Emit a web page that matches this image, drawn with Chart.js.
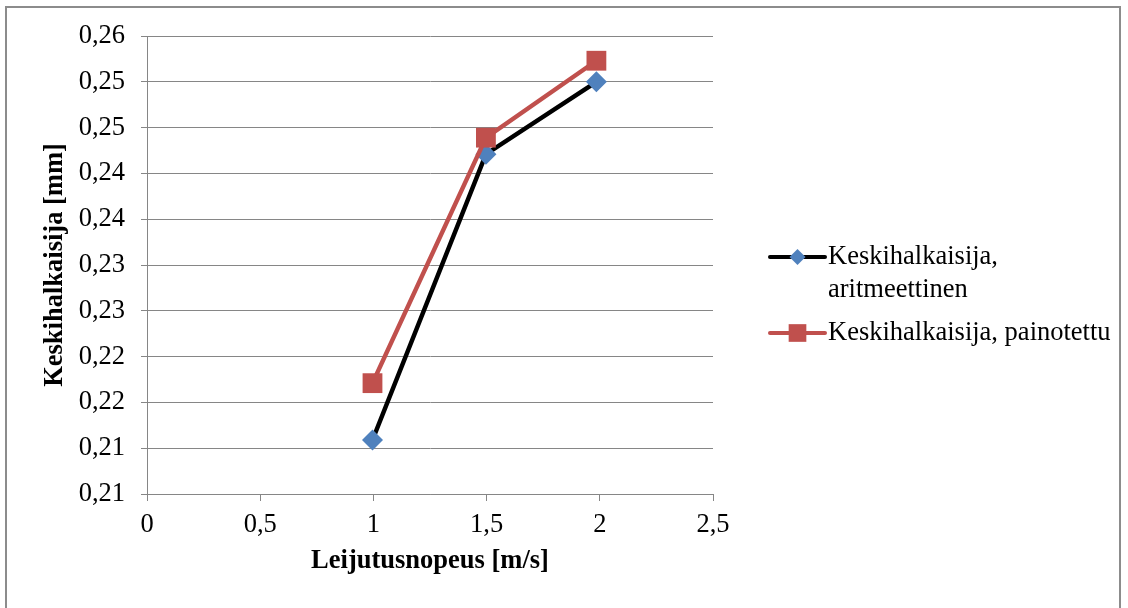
<!DOCTYPE html>
<html>
<head>
<meta charset="utf-8">
<script src="https://cdn.jsdelivr.net/npm/chart.js@4.4.1/dist/chart.umd.min.js"></script>
<style>
  html, body { margin: 0; padding: 0; background: #ffffff; overflow: hidden; }
  #wrap { position: relative; width: 1128px; height: 608px; }
  #c { position: absolute; left: 0; top: 0; }
  #frame { position: absolute; left: 5px; top: 6px; width: 1112px; height: 700px;
           border: 2px solid #8c8c8c; pointer-events: none; }
</style>
</head>
<body>
<div id="wrap">
  <canvas id="c" width="1128" height="608"></canvas>
  <div id="frame"></div>
</div>
<script>
// ---- data ----
const xSpeeds = [0.996, 1.497, 1.985];
const aritmeettinen = [0.2109, 0.2421, 0.2500];
const painotettu = [0.2171, 0.2439, 0.2523];
const seriesLabels = [
  ['Keskihalkaisija,', 'aritmeettinen'],
  ['Keskihalkaisija, painotettu']
];
const xTickLabels = ['0', '0,5', '1', '1,5', '2', '2,5'];
const yTickLabels = ['0,21', '0,21', '0,22', '0,22', '0,23', '0,23', '0,24', '0,24', '0,25', '0,25', '0,26'];
const xTitle = 'Leijutusnopeus [m/s]';
const yTitle = 'Keskihalkaisija [mm]';

const FONT = '"Liberation Serif", "Times New Roman", serif';
const FS = 26.5;
const GRID = '#868686';

function pts(xs, ys) { return xs.map((x, i) => ({ x: x, y: ys[i] })); }

const sideLegend = {
  id: 'sideLegend',
  afterDraw(chart) {
    const ctx = chart.ctx;
    const area = chart.chartArea;
    const x0 = area.right + 57;
    const lineLen = 55;
    const lh = 33;
    const gap = 10;
    const metas = chart.data.datasets;
    // total height
    let total = 0;
    metas.forEach((ds, i) => { total += ds.legendLines.length * lh; if (i) total += gap; });
    let y = 295 - total / 2 + lh / 2;
    ctx.save();
    ctx.font = FS + 'px ' + FONT;
    ctx.textBaseline = 'middle';
    ctx.textAlign = 'left';
    metas.forEach((ds, i) => {
      ctx.strokeStyle = ds.borderColor;
      ctx.lineWidth = 4;
      ctx.lineCap = 'round';
      ctx.beginPath();
      ctx.moveTo(x0, y);
      ctx.lineTo(x0 + lineLen, y);
      ctx.stroke();
      ctx.fillStyle = ds.pointBackgroundColor;
      ctx.strokeStyle = ds.pointBackgroundColor;
      Chart.helpers.drawPoint(ctx, { pointStyle: ds.pointStyle, radius: ds.legendRadius, rotation: 0, borderWidth: 0 }, x0 + lineLen / 2, y);
      ctx.fillStyle = '#000000';
      ds.legendLines.forEach((t, k) => {
        ctx.fillText(t, x0 + lineLen + 3, y + k * lh);
      });
      y += ds.legendLines.length * lh + gap;
    });
    ctx.restore();
  }
};

new Chart(document.getElementById('c'), {
  type: 'scatter',
  data: {
    datasets: [
      {
        label: seriesLabels[0].join(' '),
        legendLines: seriesLabels[0],
        data: pts(xSpeeds, aritmeettinen),
        showLine: true,
        borderColor: '#000000',
        borderWidth: 4.5,
        pointStyle: 'rectRot',
        pointRadius: 10.5,
        legendRadius: 8,
        pointBackgroundColor: '#4F81BD',
        pointBorderColor: '#4F81BD',
        pointBorderWidth: 0,
        order: 1
      },
      {
        label: seriesLabels[1].join(' '),
        legendLines: seriesLabels[1],
        data: pts(xSpeeds, painotettu),
        showLine: true,
        borderColor: '#C0504D',
        borderWidth: 4.5,
        pointStyle: 'rect',
        pointRadius: 14,
        legendRadius: 12.5,
        pointBackgroundColor: '#C0504D',
        pointBorderColor: '#C0504D',
        pointBorderWidth: 0,
        order: 0
      }
    ]
  },
  options: {
    responsive: false,
    animation: false,
    devicePixelRatio: 1,
    layout: { padding: { left: 0, top: 36, right: 415, bottom: 0 } },
    plugins: {
      legend: { display: false },
      tooltip: { enabled: false }
    },
    scales: {
      x: {
        type: 'linear',
        min: 0, max: 2.5,
        afterFit(s) { s.height = 114; },
        afterBuildTicks(s) { s.ticks = xTickLabels.map((_, i) => ({ value: i * 0.5 })); },
        ticks: {
          stepSize: 0.5,
          padding: 8,
          color: '#000000',
          font: { family: FONT, size: FS },
          callback: (v, i) => xTickLabels[i]
        },
        grid: { drawOnChartArea: false, drawTicks: true, tickLength: 7, color: GRID, lineWidth: 1 },
        border: { display: true, color: GRID, width: 1 },
        title: {
          display: true, text: xTitle, color: '#000000',
          font: { family: FONT, size: FS, weight: 'bold' },
          padding: { top: 0, bottom: 31 }
        }
      },
      y: {
        type: 'linear',
        min: 0.205, max: 0.255,
        afterFit(s) { s.width = 147; },
        afterBuildTicks(s) { s.ticks = yTickLabels.map((_, i) => ({ value: 0.205 + i * 0.005 })); },
        ticks: {
          stepSize: 0.005,
          padding: 16,
          color: '#000000',
          font: { family: FONT, size: FS },
          callback: (v, i) => yTickLabels[i]
        },
        grid: { drawOnChartArea: true, drawTicks: true, tickLength: 6, color: GRID, lineWidth: 1 },
        border: { display: true, color: GRID, width: 1 },
        title: {
          display: true, text: yTitle, color: '#000000',
          font: { family: FONT, size: FS, weight: 'bold' },
          padding: { top: 39, bottom: 0 }
        }
      }
    }
  },
  plugins: [sideLegend]
});
</script>
</body>
</html>
